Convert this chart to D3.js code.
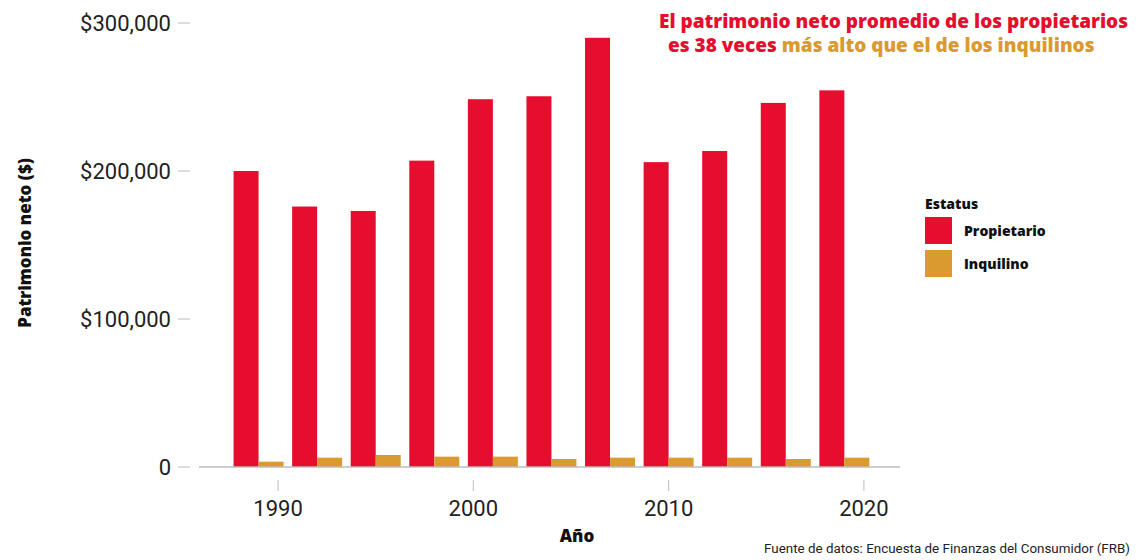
<!DOCTYPE html>
<meta charset="utf-8">
<style>
body { margin: 0; background: #fff; }
svg { display: block; }
.tick-label { font-family: Roboto, sans-serif; font-size: 22px; fill: #222; }
.axis-title { font-family: "Open Sans", sans-serif; font-weight: 800; font-size: 17px; fill: #111; }
.legend text { font-family: "Open Sans", sans-serif; font-weight: 800; font-size: 14px; fill: #111; }
.title { font-family: "Open Sans", sans-serif; font-weight: 800; font-size: 19px; }
.source { font-family: Roboto, sans-serif; font-size: 13.4px; fill: #222; }
</style>
<svg id="chart" width="1138" height="560"></svg>
<script src="https://d3js.org/d3.v7.min.js"></script>
<script>
var years = [1989, 1992, 1995, 1998, 2001, 2004, 2007, 2010, 2013, 2016, 2019];
var propietario = [200000, 176000, 173000, 207000, 248500, 250500, 290000, 206000, 213500, 246000, 254500];
var inquilino = [3600, 6300, 8100, 7000, 7000, 5400, 6300, 6300, 6300, 5400, 6300];
var xTicks = [1990, 2000, 2010, 2020];
var yTicks = [0, 100000, 200000, 300000];
var seriesNames = ["Propietario", "Inquilino"];
var colors = ["#e60d2e", "#da9a30"];

var svg = d3.select("#chart");

var x = d3.scaleLinear()
          .domain([1985.95, 2021.85])
          .range([199, 900]);
var y = d3.scaleLinear()
          .domain([0, 300000])
          .range([467, 23]);

var bw = x(1990.28) - x(1989);

var rows = years.map(function(yr, i) {
    return { year: yr, values: [propietario[i], inquilino[i]] };
});

// bars
var groups = svg.append("g")
   .attr("class", "bars")
   .selectAll("g")
   .data(rows)
   .enter().append("g");

groups.selectAll("rect")
   .data(function(d) { return d.values.map(function(v, k) { return { year: d.year, v: v, k: k }; }); })
   .enter().append("rect")
   .attr("x", function(d) { return x(d.year) - bw + d.k * bw; })
   .attr("width", bw)
   .attr("y", function(d) { return y(d.v); })
   .attr("height", function(d) { return y(0) - y(d.v); })
   .attr("fill", function(d) { return colors[d.k]; });

// baseline
svg.append("line")
   .attr("x1", x.range()[0]).attr("x2", x.range()[1])
   .attr("y1", y(0)).attr("y2", y(0))
   .attr("stroke", "#bdbdbd")
   .attr("stroke-width", 1.5);

// y axis
var yAxis = svg.append("g").attr("class", "y-axis");
yAxis.selectAll("line")
   .data(yTicks)
   .enter().append("line")
   .attr("x1", 178).attr("x2", 190)
   .attr("y1", function(d) { return y(d); })
   .attr("y2", function(d) { return y(d); })
   .attr("stroke", "#c8c8c8")
   .attr("stroke-width", 1.2);
yAxis.selectAll("text")
   .data(yTicks)
   .enter().append("text")
   .attr("class", "tick-label")
   .attr("x", 171)
   .attr("y", function(d) { return y(d); })
   .attr("dy", "0.35em")
   .attr("text-anchor", "end")
   .text(function(d) { return d === 0 ? "0" : "$" + d3.format(",")(d); });

// x axis
var xAxis = svg.append("g").attr("class", "x-axis");
xAxis.selectAll("line")
   .data(xTicks)
   .enter().append("line")
   .attr("x1", function(d) { return x(d); })
   .attr("x2", function(d) { return x(d); })
   .attr("y1", 480).attr("y2", 491)
   .attr("stroke", "#c8c8c8")
   .attr("stroke-width", 1.2);
xAxis.selectAll("text")
   .data(xTicks)
   .enter().append("text")
   .attr("class", "tick-label")
   .attr("x", function(d) { return x(d); })
   .attr("y", 516)
   .attr("text-anchor", "middle")
   .text(function(d) { return d; });

// axis titles
svg.append("text")
   .attr("class", "axis-title")
   .attr("x", 577).attr("y", 542)
   .attr("text-anchor", "middle")
   .text("Año");
svg.append("text")
   .attr("class", "axis-title")
   .attr("transform", "translate(31,243) rotate(-90)")
   .attr("text-anchor", "middle")
   .text("Patrimonio neto ($)");

// legend
var legend = svg.append("g").attr("class", "legend").attr("transform", "translate(925,0)");
legend.append("text").attr("x", 0).attr("y", 209).text("Estatus");
var items = legend.selectAll("g.item")
   .data(seriesNames)
   .enter().append("g")
   .attr("class", "item")
   .attr("transform", function(d, i) { return "translate(0," + (217 + i * 33) + ")"; });
items.append("rect")
   .attr("width", 27).attr("height", 27)
   .attr("fill", function(d, i) { return colors[i]; });
items.append("text")
   .attr("x", 39).attr("y", 14).attr("dy", "0.35em")
   .text(function(d) { return d; });

// title
svg.append("text").attr("class", "title")
   .attr("x", 1128).attr("y", 28).attr("text-anchor", "end")
   .attr("fill", colors[0])
   .text("El patrimonio neto promedio de los propietarios");
var t2 = svg.append("text").attr("class", "title")
   .attr("x", 668).attr("y", 52);
t2.append("tspan").attr("fill", colors[0]).text("es 38 veces ");
t2.append("tspan").attr("fill", colors[1]).text("más alto que el de los inquilinos");

// source
svg.append("text")
   .attr("class", "source")
   .attr("x", 1130).attr("y", 553)
   .attr("text-anchor", "end")
   .text("Fuente de datos: Encuesta de Finanzas del Consumidor (FRB)");
</script>
